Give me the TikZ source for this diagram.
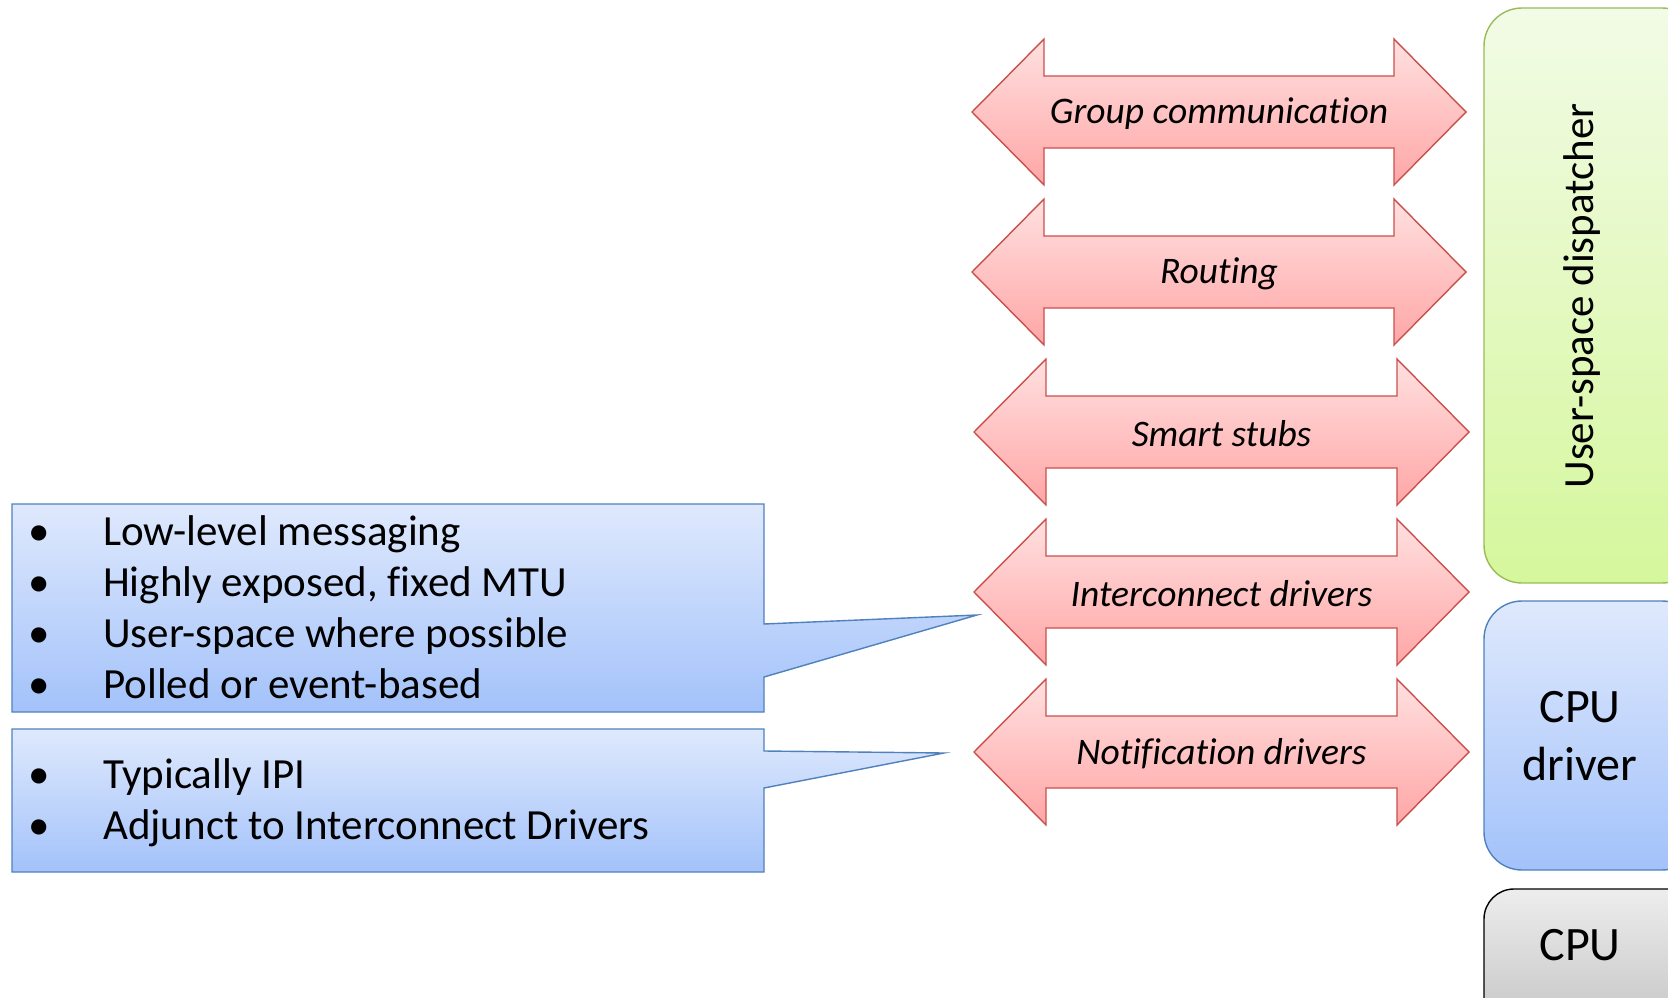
\documentclass[tikz,border=0pt]{standalone}
\usepackage{fontspec}
\setmainfont{Carlito}[Ligatures={NoCommon}]
\definecolor{arrborder}{HTML}{C8504D}
\definecolor{arrtop}{HTML}{FFE0E0}
\definecolor{arrbot}{HTML}{FFA6A6}
\definecolor{blueborder}{HTML}{4F81BD}
\definecolor{bluetop}{HTML}{DFE9FD}
\definecolor{bluebot}{HTML}{A3C2FA}
\definecolor{greenborder}{HTML}{9BBB59}
\definecolor{greentop}{HTML}{F2FBE6}
\definecolor{greenbot}{HTML}{D5F79C}
\definecolor{graytop}{HTML}{EDEDED}
\definecolor{graybot}{HTML}{C4C4C4}
\tikzset{
  dblarr/.style={draw=arrborder, line width=1.4pt, top color=arrtop, bottom color=arrbot, line join=miter},
  arrlabel/.style={font=\fontsize{37.5}{45}\selectfont\itshape, inner sep=0pt, yshift=-2pt},
  callout/.style={draw=blueborder, line width=1.4pt, top color=bluetop, bottom color=bluebot, line join=miter},
  itemtext/.style={font=\fontsize{43}{51}\selectfont, anchor=base west, inner sep=0pt},
  itemdot/.style={font=\fontsize{43}{51}\selectfont, anchor=base, inner sep=0pt},
  greenbox/.style={draw=greenborder, line width=1.4pt, top color=greentop, bottom color=greenbot, rounded corners=38pt},
  bluebox/.style={draw=blueborder, line width=1.4pt, top color=bluetop, bottom color=bluebot, rounded corners=38pt},
  graybox/.style={draw=black, line width=1.4pt, top color=graytop, bottom color=graybot, rounded corners=30pt},
  boxtext/.style={font=\fontsize{43}{51}\selectfont, inner sep=0pt},
  cputext/.style={font=\fontsize{48}{58}\selectfont, inner sep=0pt, align=center},
}
\newcommand\dblarrow[5]{%
  \path[dblarr] (#3,#2) -- (#3+72,#2-73) -- (#3+72,#2-36) -- (#4-72,#2-36) -- (#4-72,#2-73)
    -- (#4,#2) -- (#4-72,#2+73) -- (#4-72,#2+36) -- (#3+72,#2+36) -- (#3+72,#2+73) -- cycle;
  \node[arrlabel] (#1) at ({(#3+#4)/2},#2) {#5};
}
\begin{document}
\begin{tikzpicture}[x=1pt,y=-1pt]
\useasboundingbox (0,0) rectangle (1668,998);
\clip (0,0) rectangle (1668,998);
% double arrows
\dblarrow{group}{112}{972}{1466}{Group communication}
\dblarrow{routing}{272}{972}{1466}{Routing}
\dblarrow{stubs}{432}{974}{1469}{Smart stubs}
\dblarrow{interconnect}{592}{974}{1469}{Interconnect drivers}
\dblarrow{notification}{752}{974}{1469}{Notification drivers}
% right column boxes
\path[greenbox] (1484,8) rectangle (1700,583);
\node[boxtext, rotate=90] (dispatcher) at (1582,296) {User-space dispatcher};
\path[bluebox] (1484,601) rectangle (1700,870);
\node[cputext] (cpudriver) at (1580,736) {CPU\\driver};
\path[graybox] (1484,889) rectangle (1700,1030);
\node[cputext] (cpu) at (1580,945) {CPU};
% callouts
\coordinate (tipA) at (977,615);
\coordinate (tipB) at (944,753);
\path[callout] (12,504) -- (764,504) -- (764,624) -- (tipA) -- (764,677) -- (764,712) -- (12,712) -- cycle;
\path[callout] (12,729) -- (764,729) -- (764,751) -- (tipB) -- (764,788) -- (764,872) -- (12,872) -- cycle;
% bullets box 1
\node[itemdot] (d1) at (39,545) {•};
\node[itemtext] (t1) at (103,545) {Low-level messaging};
\node[itemdot] (d2) at (39,596) {•};
\node[itemtext] (t2) at (103,596) {Highly exposed, fixed MTU};
\node[itemdot] (d3) at (39,647) {•};
\node[itemtext] (t3) at (103,647) {User-space where possible};
\node[itemdot] (d4) at (39,698) {•};
\node[itemtext] (t4) at (103,698) {Polled or event-based};
% bullets box 2
\node[itemdot] (d5) at (39,788) {•};
\node[itemtext] (t5) at (103,788) {Typically IPI};
\node[itemdot] (d6) at (39,839) {•};
\node[itemtext] (t6) at (103,839) {Adjunct to Interconnect Drivers};
\end{tikzpicture}
\end{document}
